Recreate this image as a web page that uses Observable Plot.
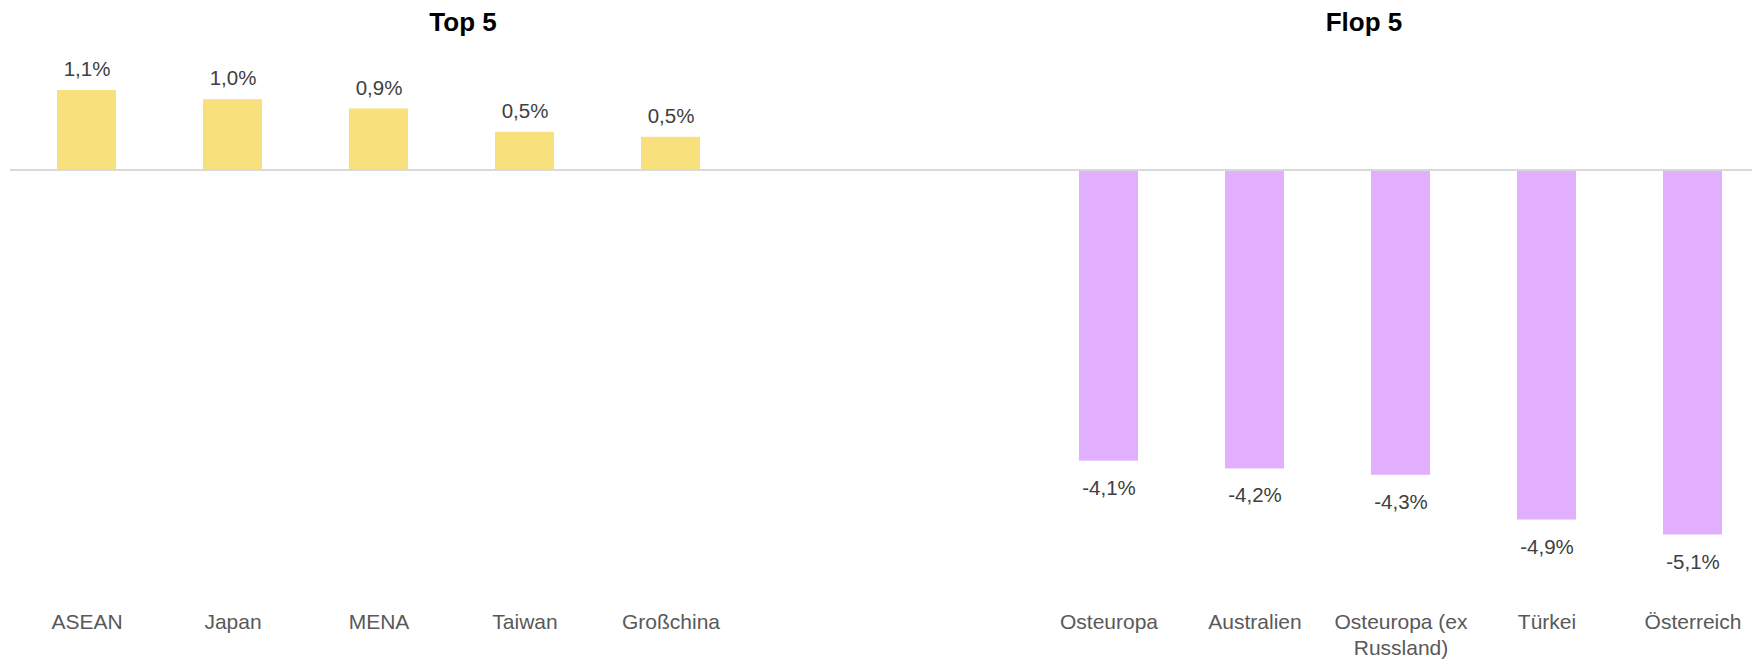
<!DOCTYPE html>
<html>
<head>
<meta charset="utf-8">
<script src="https://cdn.jsdelivr.net/npm/d3@7"></script>
<script src="https://cdn.jsdelivr.net/npm/@observablehq/plot@0.6"></script>
<style>
  html, body { margin: 0; padding: 0; background: #ffffff; }
  #wrap { position: relative; width: 1752px; height: 659px; font-family: "Liberation Sans", Arial, sans-serif; }
  .title { position: absolute; top: 9px; transform: translateX(-50%); font-size: 26px; font-weight: bold; line-height: 1; color: #000; white-space: nowrap; }
</style>
</head>
<body>
<div id="wrap">
  <div class="title" style="left:463px">Top 5</div>
  <div class="title" style="left:1364px">Flop 5</div>
</div>
<script>
// Data (% change)
const topNames = ["ASEAN", "Japan", "MENA", "Taiwan", "Großchina"];
const topValues = [1.12, 0.99, 0.86, 0.53, 0.46];
const flopNames = ["Osteuropa", "Australien", "Osteuropa (ex Russland)", "Türkei", "Österreich"];
const flopValues = [-4.10, -4.21, -4.30, -4.93, -5.14];
const spacers = ["\u200b1", "\u200b2"]; // empty slots between the two groups

const topData = topNames.map((name, i) => ({name, value: topValues[i]}));
const flopData = flopNames.map((name, i) => ({name, value: flopValues[i]}));
const allData = topData.concat(flopData);

const fmt = v => v.toFixed(1).replace(".", ",") + "%";
const wrapLabel = s => s.replace(" Russland", "\nRussland");

const chart = Plot.plot({
  width: 1752,
  height: 659,
  marginLeft: 10,
  marginRight: 0,
  marginTop: 63,
  marginBottom: 63.5,
  style: {fontFamily: "'Liberation Sans', Arial, sans-serif", background: "transparent"},
  x: {
    domain: [...topNames, ...spacers, ...flopNames],
    paddingInner: 0.599,
    paddingOuter: 0.248,
    align: 0.606,
    axis: null
  },
  y: {domain: [-6, 1.5], axis: null},
  marks: [
    Plot.barY(topData, {x: "name", y: "value", fill: "#F8E17C"}),
    Plot.barY(flopData, {x: "name", y: "value", fill: "#E2AFFF"}),
    Plot.ruleY([0], {stroke: "#D9D9D9", strokeWidth: 2}),
    Plot.text(topData, {x: "name", y: "value", text: d => fmt(d.value), dy: -21, fontSize: 20.5, fill: "#404040"}),
    Plot.text(flopData, {x: "name", y: "value", text: d => fmt(d.value), dy: 27, fontSize: 20.5, fill: "#404040"}),
    Plot.text(allData, {x: "name", text: d => wrapLabel(d.name), frameAnchor: "bottom", lineAnchor: "top", dy: 14, lineHeight: 1.25, fontSize: 21, fill: "#595959"})
  ]
});
chart.style.position = "absolute";
chart.style.left = "0";
chart.style.top = "0";
document.getElementById("wrap").prepend(chart);
</script>
</body>
</html>
